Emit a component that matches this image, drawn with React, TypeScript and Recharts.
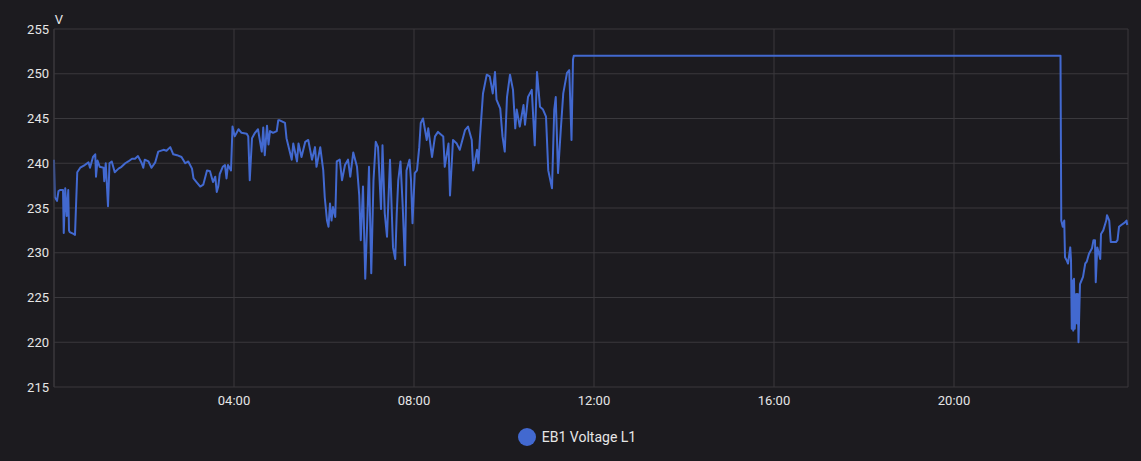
import { CartesianGrid, Legend, Line, LineChart, XAxis, YAxis } from "recharts";

// [minutes since 00:00, volts]
const night: [number, number][] = [
  [0, 240.4], [1, 236.2], [4, 235.8], [6, 236.9], [8, 237.0], [12, 237.0], [13, 232.2],
  [15, 237.2], [17, 234.1], [19, 237.0], [20, 232.5], [21, 232.3], [26, 232.1], [28, 232.0],
  [29, 234.4], [31, 239.0], [35, 239.5], [41, 239.8], [46, 240.1], [48, 239.5], [52, 240.7],
  [55, 241.0], [56, 238.5], [58, 240.3], [61, 239.6], [66, 239.5], [67, 238.0], [69, 240.0],
  [72, 235.2], [74, 240.0], [77, 240.2], [81, 239.0], [86, 239.4], [90, 239.6], [95, 240.0],
  [99, 240.2], [104, 240.5], [108, 240.5], [112, 240.8], [117, 240.0], [119, 239.5],
  [121, 240.4], [126, 240.2], [130, 239.5], [135, 240.1], [139, 241.3], [146, 241.5],
  [150, 241.4], [155, 241.8], [159, 241.0], [164, 240.9], [170, 240.7], [175, 240.0],
  [179, 240.2], [184, 239.4], [186, 238.3], [190, 237.9], [195, 237.4], [199, 237.6],
  [204, 239.2], [208, 239.1], [212, 237.9], [215, 238.5], [217, 236.8], [219, 237.4],
  [221, 238.8], [225, 239.6], [228, 239.8], [230, 238.3], [232, 239.8], [236, 239.2],
];

const morning: [number, number][] = [
  [238, 244.1], [241, 243.0], [246, 243.8], [250, 243.4], [257, 243.3], [259, 243.0],
  [261, 238.1], [264, 242.8], [268, 243.4], [272, 243.8], [277, 241.3], [279, 244.0],
  [281, 240.9], [284, 244.2], [286, 242.1], [288, 243.6], [292, 243.4], [297, 243.6],
  [299, 244.8], [301, 244.8], [308, 244.5], [310, 242.8], [317, 240.4], [319, 242.2],
  [324, 240.2], [326, 242.2], [330, 240.7], [335, 242.4], [339, 242.6], [344, 240.4],
  [348, 241.8], [350, 239.6], [355, 241.8], [359, 239.2], [361, 236.2], [364, 233.6],
  [366, 232.9], [368, 235.5], [370, 233.6], [372, 235.1], [375, 234.0], [377, 240.2],
  [381, 240.4], [384, 238.1], [388, 239.8], [392, 240.4], [395, 238.5], [399, 241.2],
  [404, 239.6], [407, 236.4], [409, 231.4], [412, 237.4], [415, 227.1], [418, 234.4],
  [420, 239.6], [423, 227.7], [426, 238.1], [429, 242.4], [432, 241.8], [436, 234.9],
  [438, 242.0], [441, 234.4], [444, 231.8], [448, 240.4], [452, 230.6], [455, 229.3],
  [457, 234.4], [459, 238.1], [462, 240.2], [465, 235.1], [468, 228.6], [470, 239.2],
  [474, 240.4], [476, 238.1], [478, 233.3], [481, 238.9], [484, 239.2], [487, 241.8],
  [489, 244.5], [492, 245.0],
];

const midday: [number, number][] = [
  [497, 242.6], [499, 243.9], [504, 240.7], [508, 243.0], [512, 243.5], [519, 243.0],
  [521, 239.6], [526, 242.2], [528, 236.4], [532, 242.6], [537, 242.2], [541, 241.5],
  [548, 243.7], [552, 244.1], [557, 242.6], [559, 239.2], [564, 241.5], [566, 240.0],
  [568, 243.0], [572, 247.8], [577, 249.9], [581, 249.7], [585, 247.8], [588, 250.2],
  [590, 247.1], [595, 246.1], [598, 243.0], [601, 241.3], [604, 247.4], [608, 249.9],
  [612, 248.2], [615, 243.9], [617, 246.0], [621, 244.1], [626, 246.5], [628, 244.3],
  [632, 247.4], [637, 248.2], [641, 242.0], [644, 250.2], [648, 246.3], [652, 246.0],
  [656, 245.2], [659, 239.2], [664, 237.2], [667, 246.0], [669, 247.4], [672, 238.9],
  [676, 244.1], [679, 247.8], [684, 250.1], [687, 250.4], [690, 242.6], [692, 251.6],
];

const hold: [number, number][] = [
  [693, 252.0], [1342, 252.0],
];

const evening: [number, number][] = [
  [1343, 233.6], [1345, 232.9], [1347, 233.6], [1348, 229.5], [1350, 229.2], [1352, 228.8],
  [1355, 230.6], [1356, 229.2], [1357, 221.5], [1358, 226.9], [1359, 221.3], [1360, 227.1],
  [1361, 221.5], [1363, 225.4], [1364, 222.1], [1365, 225.4], [1366, 220.0], [1368, 226.5],
  [1370, 226.9], [1372, 227.3], [1375, 228.8], [1377, 229.0], [1380, 229.9], [1384, 230.5],
  [1386, 231.4], [1388, 231.4], [1389, 226.7], [1391, 230.6], [1392, 230.3], [1395, 229.3],
  [1396, 232.1], [1399, 232.5], [1403, 233.6], [1404, 234.2], [1407, 233.6], [1409, 231.2],
  [1412, 231.2], [1416, 231.2], [1418, 231.4], [1420, 232.9], [1423, 233.1], [1428, 233.4],
  [1430, 233.6], [1431, 233.1],
];

const xTicks = [240, 480, 720, 960, 1200];
const yTicks = [215, 220, 225, 230, 235, 240, 245, 250, 255];
const seriesName = "EB1 Voltage L1";

const data = [...night, ...morning, ...midday, ...hold, ...evening].map(([t, v]) => ({ t, v }));

const BG = "#1c1b1f";
const GRID = "#3a393d";
const TEXT = "#e6e6e6";
const BLUE = "#4269d0";

const fmtTime = (m: number) => {
  const h = Math.floor(m / 60);
  const mm = m % 60;
  return `${String(h).padStart(2, "0")}:${String(mm).padStart(2, "0")}`;
};

const LegendContent = () => (
  <div
    style={{
      display: "flex",
      justifyContent: "center",
      alignItems: "center",
      height: 38,
      paddingLeft: 26,
    }}
  >
    <span
      style={{
        width: 18,
        height: 18,
        borderRadius: "50%",
        background: BLUE,
        marginRight: 6,
        display: "inline-block",
      }}
    />
    <span style={{ color: TEXT, fontSize: 14 }}>{seriesName}</span>
  </div>
);

export default function App() {
  return (
    <div
      style={{
        position: "fixed",
        left: 0,
        top: 0,
        width: 1141,
        height: 461,
        background: BG,
        fontFamily: "Roboto, sans-serif",
      }}
    >
      <LineChart
        width={1141}
        height={461}
        data={data}
        margin={{ top: 29, right: 13, left: 0, bottom: 5 }}
      >
        <CartesianGrid stroke={GRID} strokeWidth={1} />
        <XAxis
          dataKey="t"
          type="number"
          domain={[0, 1432]}
          ticks={xTicks}
          tickFormatter={fmtTime}
          axisLine={false}
          tickLine={false}
          tickSize={0}
          tickMargin={9}
          height={31}
          tick={{ fill: TEXT, fontSize: 13 }}
        />
        <YAxis
          type="number"
          domain={[215, 255]}
          ticks={yTicks}
          width={54}
          axisLine={{ stroke: GRID }}
          tickLine={false}
          tickSize={0}
          tickMargin={5}
          tick={{ fill: TEXT, fontSize: 13 }}
          label={{ value: "V", position: "top", dx: 32, fill: TEXT, fontSize: 13 }}
        />
        <Legend verticalAlign="bottom" height={38} content={<LegendContent />} />
        <Line
          type="linear"
          dataKey="v"
          name={seriesName}
          stroke={BLUE}
          strokeWidth={2}
          strokeLinejoin="round"
          dot={false}
          isAnimationActive={false}
        />
      </LineChart>
    </div>
  );
}
